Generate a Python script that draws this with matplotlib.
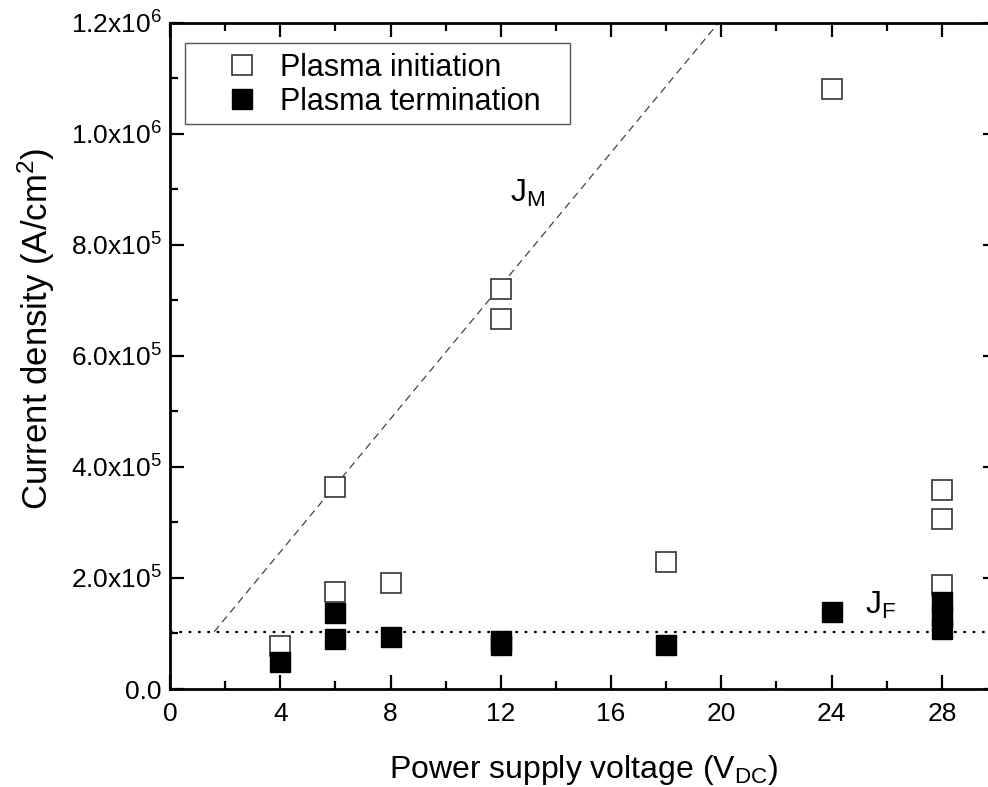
import numpy as np
import matplotlib
matplotlib.use("Agg")
import matplotlib.pyplot as plt
from matplotlib.patches import Rectangle
from matplotlib.ticker import MultipleLocator, FuncFormatter

plt.rcParams['font.family'] = ['Liberation Sans', 'DejaVu Sans']
plt.rcParams['mathtext.fontset'] = 'custom'
plt.rcParams['mathtext.rm'] = 'Liberation Sans'
plt.rcParams['mathtext.it'] = 'Liberation Sans'

# plasma initiation (open squares)
v_init = [4, 6, 6, 8, 12, 12, 18, 24, 28, 28, 28]
j_init = [7.7e4, 3.64e5, 1.74e5, 1.91e5, 7.2e5, 6.67e5, 2.29e5, 1.08e6, 3.59e5, 3.06e5, 1.88e5]

# plasma termination (filled squares)
v_term = [4, 6, 6, 8, 12, 12, 18, 24, 28, 28, 28]
j_term = [4.9e4, 1.37e5, 9.0e4, 9.45e4, 8.6e4, 7.9e4, 8.0e4, 1.38e5, 1.56e5, 1.32e5, 1.08e5]

# guide lines
jm_v = [1.6, 19.9]
jm_j = [1.03e5, 1.2e6]
jf_level = 1.03e5

fig = plt.figure(figsize=(9.88, 7.87), dpi=100)
ax = fig.add_axes([0.1721, 0.1245, 0.837, 0.8466])

ax.plot(jm_v, jm_j, color='#444444', lw=0.9, ls=(0, (6, 4)), zorder=1)
ax.axhline(jf_level, color='black', lw=1.6, ls=(0, (1.2, 3)), zorder=1)

ax.plot(v_init, j_init, ls='none', marker='s', ms=14, mfc='white', mec='#333333',
        mew=1.2, label='Plasma initiation', zorder=3)
ax.plot(v_term, j_term, ls='none', marker='s', ms=14, mfc='black', mec='black',
        mew=1.0, label='Plasma termination', zorder=4)

ax.text(12.33, 8.77e5, r'J$_{\rm M}$', fontsize=23, ha='left', va='baseline')
ax.text(25.2, 1.35e5, r'J$_{\rm F}$', fontsize=23, ha='left', va='baseline')

ax.set_xlim(0, 30)
ax.set_ylim(0, 1.2e6)
ax.xaxis.set_major_locator(MultipleLocator(4))
ax.xaxis.set_minor_locator(MultipleLocator(2))
ax.yaxis.set_major_locator(MultipleLocator(2e5))
ax.yaxis.set_minor_locator(MultipleLocator(1e5))


def sci_fmt(val, pos):
    if val <= 0:
        return '0.0' if abs(val) < 1 else ''
    exp = int(np.floor(np.log10(val)))
    mant = val / 10 ** exp
    return r'%.1fx10$^{%d}$' % (mant, exp)


ax.yaxis.set_major_formatter(FuncFormatter(sci_fmt))
ax.tick_params(which='both', direction='in', top=True, right=True, width=1.6,
               labelsize=19, pad=6)
ax.tick_params(axis='x', pad=9)
ax.tick_params(which='major', length=10)
ax.tick_params(which='minor', length=6)
for sp in ax.spines.values():
    sp.set_linewidth(2)

ax.set_xlabel(r'Power supply voltage (V$_{\rm DC}$)', fontsize=23, labelpad=20)
ax.set_ylabel(r'Current density (A/cm$^{2}$)', fontsize=25)
ax.yaxis.set_label_coords(-0.137, 0.54)

# legend box drawn separately so the entries can sit inside it freely
ax.add_patch(Rectangle((0.018, 0.848), 0.466, 0.1215, transform=ax.transAxes,
                       fill=False, edgecolor='#555555', lw=1.0, zorder=5))
leg = ax.legend(loc='center left', bbox_to_anchor=(0.0686, 0.907), fontsize=22,
                frameon=False, handletextpad=0.74, borderpad=0, labelspacing=0.14,
                handlelength=1.0, borderaxespad=0)

fig.savefig('out.png', dpi=100)
